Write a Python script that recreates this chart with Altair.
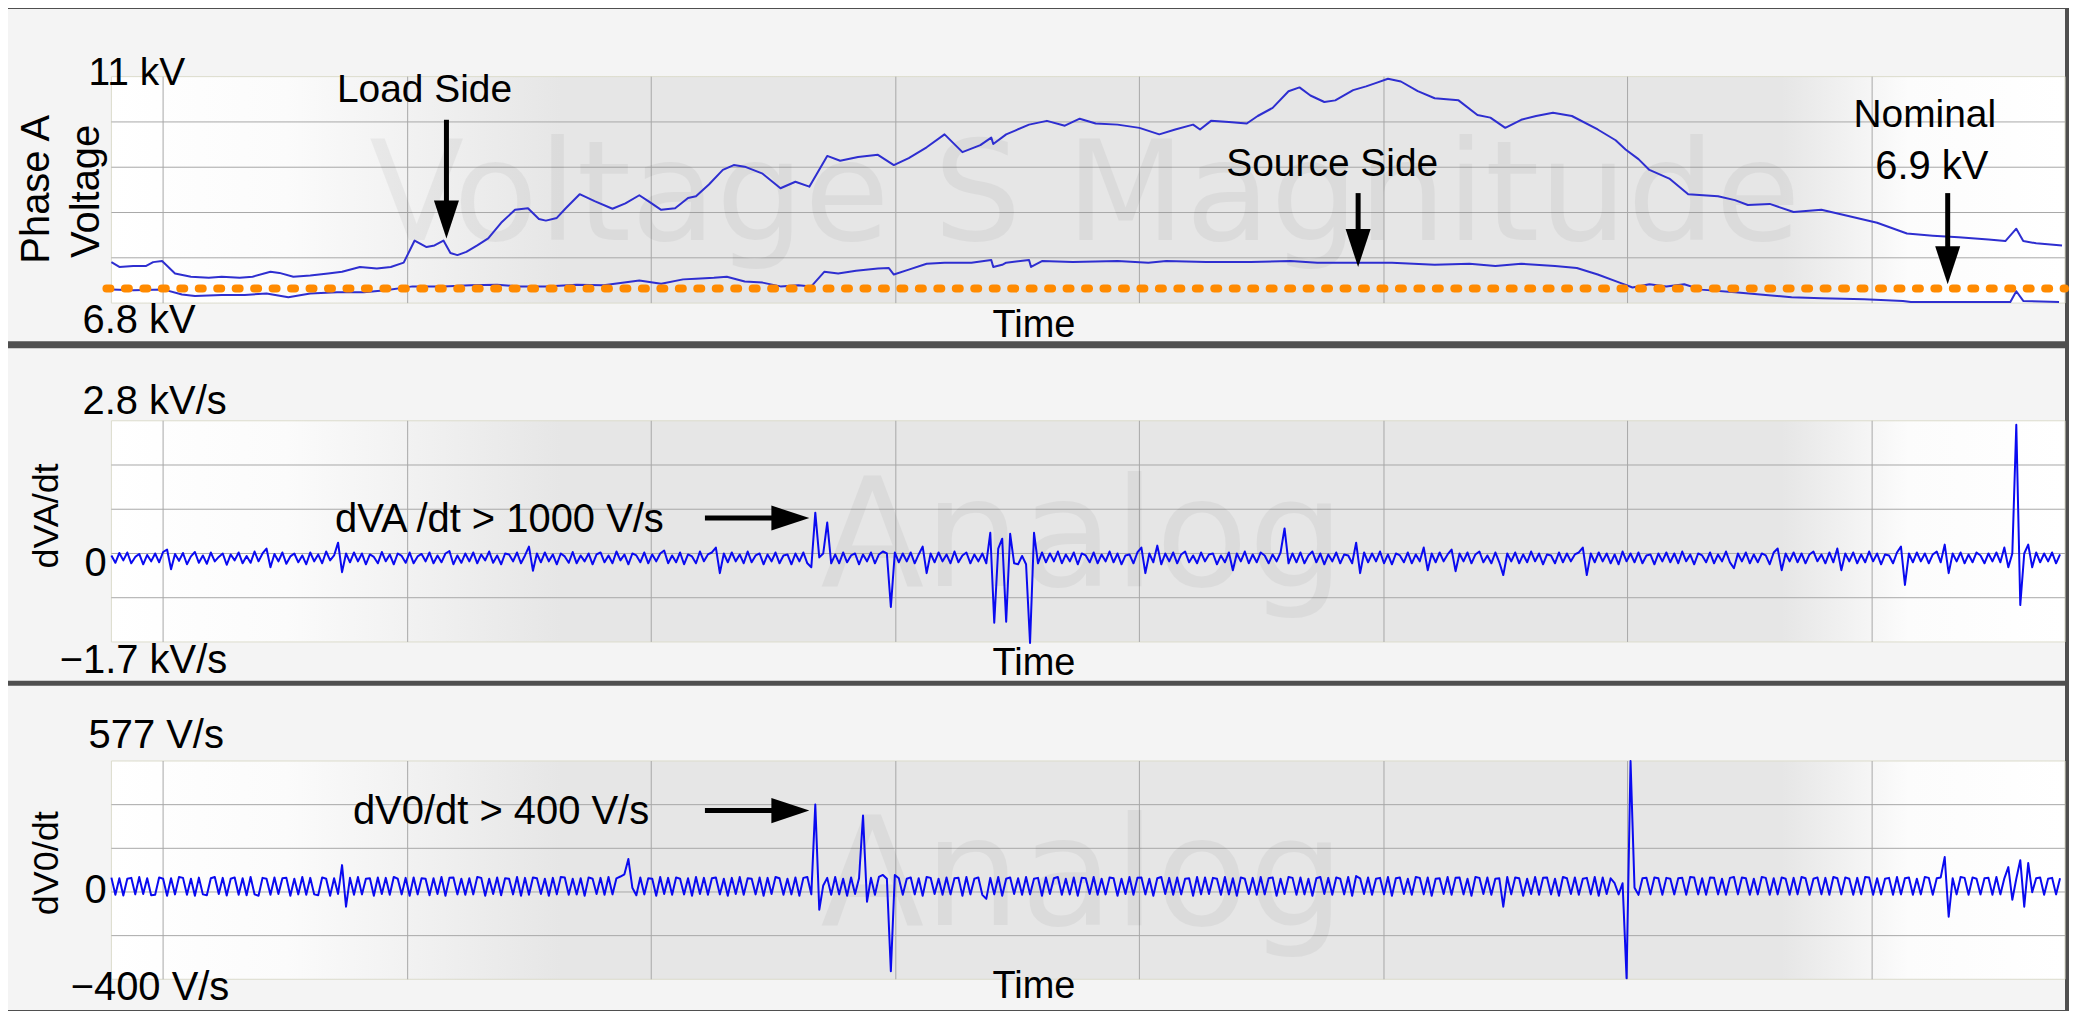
import altair as alt
import pandas as pd

# ---------------- data (time axis in sample units, 0 = start of record) ----------------
# Panel 1: Phase A voltage magnitude, kV
load_t = [0, 8, 22, 35, 42, 51, 64, 80, 98, 111,
          129, 142, 160, 169, 183, 200, 218, 232, 250, 267,
          281, 294, 305, 317, 325, 334, 341, 348, 357, 368,
          379, 392, 406, 419, 430, 437, 448, 457, 471, 486,
          504, 517, 531, 540, 553, 567, 580, 588, 601, 615,
          626, 637, 655, 673, 688, 702, 720, 733, 751, 771,
          787, 802, 820, 838, 856, 874, 885, 887, 900, 909,
          923, 941, 959, 974, 990, 1012, 1034, 1054, 1070, 1088,
          1095, 1106, 1124, 1142, 1153, 1168, 1184, 1195, 1206, 1220,
          1231, 1249, 1262, 1273, 1284, 1297, 1314, 1331, 1355, 1374,
          1387, 1402, 1418, 1433, 1450, 1469, 1495, 1513, 1523, 1536,
          1547, 1567, 1586, 1616, 1633, 1646, 1668, 1692, 1720, 1746,
          1776, 1806, 1832, 1858, 1888, 1905, 1916, 1923, 1936, 1962]
load_kv = [7.56, 7.47, 7.49, 7.49, 7.56, 7.58, 7.35, 7.29, 7.27, 7.29,
           7.27, 7.29, 7.38, 7.36, 7.29, 7.31, 7.35, 7.38, 7.47, 7.44,
           7.47, 7.55, 7.96, 7.84, 7.87, 7.96, 7.73, 7.69, 7.75, 7.87,
           8.00, 8.29, 8.53, 8.56, 8.36, 8.33, 8.38, 8.56, 8.82, 8.69,
           8.55, 8.65, 8.80, 8.69, 8.53, 8.56, 8.75, 8.78, 9.00, 9.27,
           9.36, 9.33, 9.20, 8.93, 9.05, 8.96, 9.53, 9.44, 9.51, 9.55,
           9.36, 9.49, 9.69, 9.93, 9.60, 9.73, 9.87, 9.75, 9.93, 10.00,
           10.11, 10.18, 10.09, 10.22, 10.13, 10.11, 10.05, 9.93, 10.02, 10.11,
           10.02, 10.18, 10.16, 10.13, 10.27, 10.42, 10.73, 10.80, 10.65, 10.53,
           10.56, 10.75, 10.82, 10.89, 10.96, 10.91, 10.73, 10.60, 10.56, 10.29,
           10.24, 10.05, 10.20, 10.27, 10.33, 10.27, 10.02, 9.82, 9.65, 9.47,
           9.27, 9.11, 8.82, 8.78, 8.71, 8.62, 8.64, 8.49, 8.53, 8.42,
           8.29, 8.09, 8.05, 8.02, 7.98, 7.95, 8.18, 7.95, 7.91, 7.87]
source_t = [0, 22, 53, 71, 84, 111, 134, 156, 178, 200,
            227, 254, 276, 303, 334, 361, 388, 410, 437, 468,
            495, 531, 553, 575, 588, 606, 619, 637, 655, 673,
            691, 704, 717, 731, 749, 771, 782, 787, 802, 820,
            838, 865, 885, 887, 896, 900, 923, 925, 936, 967,
            1012, 1043, 1061, 1101, 1146, 1186, 1213, 1253, 1288, 1331,
            1366, 1392, 1418, 1452, 1474, 1495, 1517, 1530, 1547, 1564,
            1582, 1599, 1633, 1664, 1690, 1720, 1763, 1802, 1810, 1849,
            1910, 1916, 1923, 1959]
source_kv = [7.05, 7.04, 7.05, 6.96, 6.93, 6.95, 6.95, 6.98, 6.91, 6.98,
             7.00, 7.00, 7.04, 7.11, 7.11, 7.13, 7.14, 7.11, 7.11, 7.14,
             7.13, 7.22, 7.16, 7.24, 7.25, 7.27, 7.29, 7.20, 7.18, 7.11,
             7.13, 7.11, 7.38, 7.35, 7.40, 7.44, 7.45, 7.33, 7.42, 7.53,
             7.55, 7.55, 7.60, 7.47, 7.51, 7.55, 7.60, 7.47, 7.58, 7.56,
             7.58, 7.55, 7.58, 7.56, 7.56, 7.58, 7.55, 7.55, 7.55, 7.51,
             7.53, 7.49, 7.53, 7.49, 7.45, 7.33, 7.18, 7.09, 7.15, 7.11,
             7.15, 7.05, 7.00, 6.95, 6.91, 6.89, 6.87, 6.84, 6.82, 6.82,
             6.82, 7.02, 6.84, 6.82]
nominal_line_kv = 7.07

# Panels 2 and 3: one sample every 4 time units
deriv_step = 4
# dVA/dt in units of 10 V/s (0.01 kV/s)
dva_10vps = [6, -9, 11, -4, 12, -10, 3, 9, -12, 7,
             -6, 10, -8, 13, 18, -22, 9, -5, 11, -12,
             4, 13, -9, 6, -11, 12, -6, 3, 10, -13,
             8, -4, 12, -10, 5, -9, 14, -6, 10, 20,
             -18, 9, -6, 12, -11, 4, 10, -8, 6, -12,
             12, -6, 8, -10, 14, -4, 6, 32, -28, 10,
             -8, 12, -6, 10, -12, 8, 3, -10, 13, -6,
             8, -12, 10, 5, -9, 12, -10, 4, 9, -6,
             12, -10, 6, -8, 10, 15, -12, 6, -9, 10,
             -6, 12, -10, 8, -4, 14, -9, 6, -12, 10,
             8, -6, 12, -10, 6, 24, -25, 10, -8, 12,
             -6, 8, -12, 10, 4, -9, 13, -10, 6, -6,
             10, -12, 8, 12, -8, 6, -10, 14, -4, 8,
             -12, 10, 6, -8, 12, -10, 8, -6, 10, 16,
             -10, 6, -8, 12, -12, 8, 4, -10, 14, -6,
             8, 12, 22, -30, 10, -8, 12, -6, 8, -10,
             14, -8, 6, 10, -12, 8, -6, 12, -10, 6,
             8, -12, 10, -6, 12, -10, -18, 93, 2, 10,
             73, -10, 8, -10, 12, -8, 6, 10, -12, 8,
             -6, 12, -10, 8, 14, 10, -99, 12, -8, 10,
             -6, 12, -10, 8, 24, -30, 10, -8, 12, -6,
             8, -10, 14, -8, 6, 12, -10, 8, -6, 10,
             -10, 52, -131, 20, 40, -129, 50, -10, -12, 5,
             -12, -172, 52, -10, 12, -8, 10, -6, 14, -10,
             8, -6, 12, -12, 10, 6, -8, 12, -10, 8,
             -6, 14, -8, 10, -12, 6, 8, -10, 12, 22,
             -30, 10, -8, 26, -12, 10, -6, 12, -10, 8,
             14, -8, 6, -10, 12, -6, 8, 10, -12, 6,
             -8, 12, -24, 10, -6, 14, -10, 8, -8, 12,
             6, -10, 8, -6, 12, 61, -10, 10, -8, 12,
             -10, 6, 14, -8, 10, -12, 8, -6, 12, -10,
             8, 6, -10, 32, -30, 12, -8, 10, -6, 14,
             -10, 8, -12, 10, 6, -8, 12, -10, 8, -6,
             22, -24, 10, -8, 12, -6, 8, 18, -26, 10,
             -6, 12, -10, 8, 14, -8, 6, -10, 12, -8,
             -34, 10, -6, 12, -10, 8, -8, 14, -6, 10,
             -12, 8, 6, -10, 12, -8, 10, -6, 8, 12,
             22, -34, 10, -8, 12, -6, 10, -10, 8, -12,
             14, -6, 10, -8, 12, -10, 6, 8, -12, 10,
             -6, 12, -8, 10, -10, 14, -6, 8, -12, 10,
             6, -8, 12, -10, 8, -6, 14, -8, -20, 10,
             -6, 12, -10, 8, -8, 10, 6, -12, 12, 20,
             -24, 10, -6, 12, -8, 10, -10, 8, 14, -6,
             8, -10, 12, -8, 20, -24, 10, -6, 12, -10,
             8, -8, 14, -6, 10, -12, 8, 6, -10, 12,
             24, -54, 10, -8, 12, -6, 10, -10, 8, 14,
             -8, 28, -30, 10, -6, 12, -10, 8, -8, 12,
             6, -10, 10, -6, 12, -8, 22, -18, 10, 272,
             -95, 10, 28, -18, 12, -8, 10, -6, 12, -10,
             8]
# dV0/dt in V/s
dv0_vps = [55, -22, 52, -25, 50, 54, -20, 58, -18, 52,
           -24, -22, 56, 50, -26, 52, -20, 58, 54, -22,
           50, -26, 55, -20, -24, 52, 58, -18, 54, -25,
           50, 56, -22, 52, -24, 58, -20, -26, 54, 50,
           -22, 56, -18, 52, 54, -26, 50, -20, 58, -22,
           54, -20, -24, 56, 50, -26, 52, -18, 111, -75,
           54, -22, 58, -20, 50, 52, -26, 56, -18, 54,
           -22, 58, 50, -20, 54, -26, 56, -20, 52, 50,
           -24, 52, -18, 58, -26, 54, 56, -20, 50, -22,
           52, -20, 58, 54, -26, 50, -18, 56, -24, 52,
           50, -20, 58, -26, 54, -22, 56, 52, -18, 50,
           -26, 54, -20, 58, 56, -22, 50, -20, 52, -26,
           56, 50, -18, 54, -22, 58, -20, 52, 60, 70,
           138, 10, -24, 56, -20, 52, 50, -26, 58, -18,
           54, -22, 56, 50, -20, 52, -26, 58, -18, 54,
           -22, 52, 56, -20, 50, -26, 54, -18, 58, -22,
           52, 50, -20, 56, -26, 54, -18, 58, 52, -22,
           50, -20, 56, -26, 54, 58, -20, 382, -89, 20,
           54, -22, 58, -20, 50, -26, 56, -18, 52, 333,
           -53, 54, -22, 58, 67, 50, -364, 67, 52, -22,
           50, 56, -20, 52, -26, 58, 54, -18, 50, -22,
           56, -20, 52, 54, -26, 58, -20, 50, 56, -22,
           -40, 54, -20, 58, -26, 50, 56, -18, 52, -22,
           58, -20, 50, 54, -26, 56, -18, 52, 58, -22,
           50, -20, 56, -26, 54, 52, -18, 58, -22, 50,
           -20, 56, 52, -26, 50, -18, 58, -22, 54, 56,
           -20, 50, -26, 52, 58, -18, 54, -22, 56, -20,
           50, 52, -26, 58, -20, 56, -18, 54, 50, -22,
           58, -20, 52, -26, 56, 50, -18, 54, -22, 58,
           -20, 52, 56, -26, 50, -18, 58, 54, -22, 56,
           -20, 50, -26, 52, 58, -18, 54, -22, 56, 50,
           -20, 58, -26, 62, 52, -18, 56, -22, 50, 54,
           -20, 58, -26, 52, 56, -18, 50, -22, 58, 54,
           -20, 56, -26, 50, 52, -18, 58, -22, 54, 56,
           -20, 50, -26, 58, 54, -18, 56, -22, 50, 52,
           -75, 58, -20, 56, 52, -26, 50, -18, 58, -22,
           54, 56, -20, 50, -26, 58, 52, -18, 56, -22,
           50, 54, -20, 58, -26, 56, -18, 52, 30, -20,
           30, -395, 577, 10, -22, 52, 54, -20, 56, 52,
           -22, 54, 50, -20, 52, 54, -22, 58, 56, -20,
           52, -22, 56, 54, -20, 50, -22, 54, 58, -20,
           56, 52, -22, 50, -20, 58, 54, -22, 52, -20,
           56, 50, -22, 54, -20, 58, 52, -22, 50, 56,
           -20, 54, -22, 58, 52, -20, 56, 50, -22, 54,
           -20, 58, 56, -22, 52, -20, 50, 54, -22, 58,
           -20, 52, 56, -22, 50, -20, 58, 54, -22, 52,
           56, 147, -120, 52, -20, 58, 54, -22, 56, 50,
           -20, 52, 54, -22, 58, -20, 52, 102, -44, 50,
           133, -75, 120, -10, 52, 56, -22, 50, 54, -20,
           52]

grid_time = [52, 298, 543, 789, 1034, 1280, 1525, 1771]

# annotation arrows
load_arrow = (337, 10.20, 8.00)       # time, value at tail, value at tip
source_arrow = (1254, 8.84, 7.47)
nominal_arrow = (1847, 8.84, 7.15)
dva_arrow = (597, 702, 0.82)          # time at tail, time at tip, value
dv0_arrow = (597, 702, 355)

# ---------------- styling / layout ----------------
W = 2061
H1, H2, H3 = 333, 333, 325
XS = alt.Scale(domain=[-104, 1965], nice=False, zero=False)
PLOT_T0, PLOT_T1 = 0, 1965
FONT = "Liberation Sans"
WM_FONT = "DejaVu Sans"
GRID = "#a8a8a8"
DOWN = "M -0.66 -2 L 0.66 -2 L 0 0 Z"
RIGHT = "M -2 -0.66 L -2 0.66 L 0 0 Z"

GRAD = alt.Gradient(
    gradient="linear", x1=0, x2=1, y1=0, y2=0,
    stops=[alt.GradientStop(color="#ffffff", offset=0),
           alt.GradientStop(color="#fbfbfb", offset=0.09),
           alt.GradientStop(color="#e6e6e6", offset=0.23),
           alt.GradientStop(color="#e6e6e6", offset=0.855),
           alt.GradientStop(color="#fcfcfc", offset=0.92),
           alt.GradientStop(color="#ffffff", offset=1)])


def y_scale(H, top_px, bot_px, v_top, v_bot):
    per_px = (v_top - v_bot) / (bot_px - top_px)
    dom = [v_bot - (H - bot_px) * per_px, v_top + top_px * per_px]
    return alt.Scale(domain=dom, nice=False, zero=False), per_px


def frame(ys, v_bot, v_top):
    df = pd.DataFrame({"t0": [PLOT_T0], "t1": [PLOT_T1], "v0": [v_bot], "v1": [v_top]})
    rect = alt.Chart(df).mark_rect(fill=GRAD, stroke="#dcdccc", strokeWidth=1).encode(
        x=alt.X("t0:Q", scale=XS, axis=None), x2="t1:Q",
        y=alt.Y("v0:Q", scale=ys, axis=None), y2="v1:Q")
    hv = [v_bot + (v_top - v_bot) * i / 5 for i in range(1, 5)]
    hdf = pd.DataFrame({"v": hv, "t0": PLOT_T0, "t1": PLOT_T1})
    hgrid = alt.Chart(hdf).mark_rule(color=GRID, strokeWidth=1).encode(
        x=alt.X("t0:Q", scale=XS, axis=None), x2="t1:Q",
        y=alt.Y("v:Q", scale=ys, axis=None))
    vdf = pd.DataFrame({"t": grid_time, "v0": v_bot, "v1": v_top})
    vgrid = alt.Chart(vdf).mark_rule(color=GRID, strokeWidth=1).encode(
        x=alt.X("t:Q", scale=XS, axis=None),
        y=alt.Y("v0:Q", scale=ys, axis=None), y2="v1:Q")
    return [rect, hgrid, vgrid]


def label(text, px, py, size=40, align="left", angle=0, font=FONT,
          opacity=1.0, baseline="middle"):
    df = pd.DataFrame({"txt": [text]})
    return alt.Chart(df).mark_text(
        align=align, baseline=baseline, angle=angle, font=font,
        fontSize=size, color="#000000", opacity=opacity).encode(
        text="txt:N", x=alt.value(px), y=alt.value(py))


def series(ys, t, v, color, width):
    df = pd.DataFrame({"t": t, "v": v})
    return alt.Chart(df).mark_line(color=color, strokeWidth=width,
                                   strokeJoin="round").encode(
        x=alt.X("t:Q", scale=XS, axis=None),
        y=alt.Y("v:Q", scale=ys, axis=None))


def v_arrow(ys, per_px, spec):
    t, v_tail, v_tip = spec
    df = pd.DataFrame({"t": [t], "v0": [v_tail], "v1": [v_tip + 30 * per_px], "tip": [v_tip]})
    shaft = alt.Chart(df).mark_rule(color="black", strokeWidth=5).encode(
        x=alt.X("t:Q", scale=XS, axis=None),
        y=alt.Y("v0:Q", scale=ys, axis=None), y2="v1:Q")
    head = alt.Chart(df).mark_point(shape=DOWN, size=1444, filled=True,
                                    color="black", opacity=1, strokeWidth=0).encode(
        x=alt.X("t:Q", scale=XS, axis=None),
        y=alt.Y("tip:Q", scale=ys, axis=None))
    return [shaft, head]


def h_arrow(ys, spec):
    t_tail, t_tip, v = spec
    df = pd.DataFrame({"t0": [t_tail], "t1": [t_tip - 30], "tip": [t_tip], "v": [v]})
    shaft = alt.Chart(df).mark_rule(color="black", strokeWidth=5).encode(
        x=alt.X("t0:Q", scale=XS, axis=None), x2="t1:Q",
        y=alt.Y("v:Q", scale=ys, axis=None))
    head = alt.Chart(df).mark_point(shape=RIGHT, size=1444, filled=True,
                                    color="black", opacity=1, strokeWidth=0).encode(
        x=alt.X("tip:Q", scale=XS, axis=None),
        y=alt.Y("v:Q", scale=ys, axis=None))
    return [shaft, head]


MINUS = "\u2212"

# ---------------- panel 1 ----------------
ys1, pp1 = y_scale(H1, 67.8, 294.7, 11.0, 6.8)
nom_df = pd.DataFrame({"t0": [-5], "t1": [PLOT_T1], "v": [nominal_line_kv]})
nominal = alt.Chart(nom_df).mark_rule(
    color="#ff8a00", strokeWidth=8, strokeDash=[4, 14.5], strokeCap="round").encode(
    x=alt.X("t0:Q", scale=XS, axis=None), x2="t1:Q",
    y=alt.Y("v:Q", scale=ys1, axis=None))
p1_layers = frame(ys1, 6.8, 11.0) + [
    label("Voltage S Magnitude", 1079, 231.8, size=139, align="center",
          font=WM_FONT, opacity=0.045, baseline="alphabetic"),
    series(ys1, load_t, load_kv, "#2e2ed0", 2),
    series(ys1, source_t, source_kv, "#2e2ed0", 2),
    nominal,
] + v_arrow(ys1, pp1, load_arrow) + v_arrow(ys1, pp1, source_arrow) + \
    v_arrow(ys1, pp1, nominal_arrow) + [
    label("11 kV", 80.7, 63.9, size=39),
    label("6.8 kV", 74.7, 312.4),
    label("Time", 1028, 317.3, size=38, align="center"),
    label("Phase A", 29, 180.7, align="center", angle=270),
    label("Voltage", 79.5, 182.7, align="center", angle=270),
    label("Load Side", 417.3, 81.5, size=39, align="center"),
    label("Source Side", 1326.8, 155.2, size=39, align="center"),
    label("Nominal", 1920.5, 106.1, size=39, align="center"),
    label("6.9 kV", 1927.5, 158.2, align="center"),
]
panel1 = alt.layer(*p1_layers).properties(width=W, height=H1)

# ---------------- panel 2 ----------------
ys2, pp2 = y_scale(H2, 72.6, 294.2, 2.8, -1.7)
dva_df_t = [i * deriv_step for i in range(len(dva_10vps))]
dva_kvps = [v / 100 for v in dva_10vps]
p2_layers = frame(ys2, -1.7, 2.8) + [
    label("Analog", 1076.7, 238.6, size=152, align="center",
          font=WM_FONT, opacity=0.045, baseline="alphabetic"),
    series(ys2, dva_df_t, dva_kvps, "#0a0af0", 2),
] + h_arrow(ys2, dva_arrow) + [
    label("2.8 kV/s", 74.7, 53.7),
    label("0", 76.7, 215.7),
    label(MINUS + "1.7 kV/s", 51.8, 313.1),
    label("dVA/dt", 39, 168, size=36, align="center", angle=270),
    label("Time", 1028, 316, size=38, align="center"),
    label("dVA /dt  > 1000  V/s", 327.7, 172),
]
panel2 = alt.layer(*p2_layers).properties(width=W, height=H2)

# ---------------- panel 3 ----------------
ys3, pp3 = y_scale(H3, 75.5, 294.2, 577, -400)
dv0_df_t = [i * deriv_step for i in range(len(dv0_vps))]
p3_layers = frame(ys3, -400, 577) + [
    label("Analog", 1076.7, 239.5, size=152, align="center",
          font=WM_FONT, opacity=0.045, baseline="alphabetic"),
    series(ys3, dv0_df_t, dv0_vps, "#0a0af0", 2),
] + h_arrow(ys3, dv0_arrow) + [
    label("577  V/s", 80.7, 50.7),
    label("0", 76.7, 205.7),
    label(MINUS + "400  V/s", 62.8, 303),
    label("dV0/dt", 39, 177.9, size=36, align="center", angle=270),
    label("Time", 1028, 302, size=38, align="center"),
    label("dV0/dt  >  400  V/s", 345.6, 126.2),
]
panel3 = alt.layer(*p3_layers).properties(width=W, height=H3)

chart = alt.vconcat(panel1, panel2, panel3, spacing=3).properties(
    background="#4f4f4f", padding=0
).configure_view(fill="#f4f4f4", stroke=None)

chart.save("out.html", embed_options={"renderer": "svg", "actions": False})
